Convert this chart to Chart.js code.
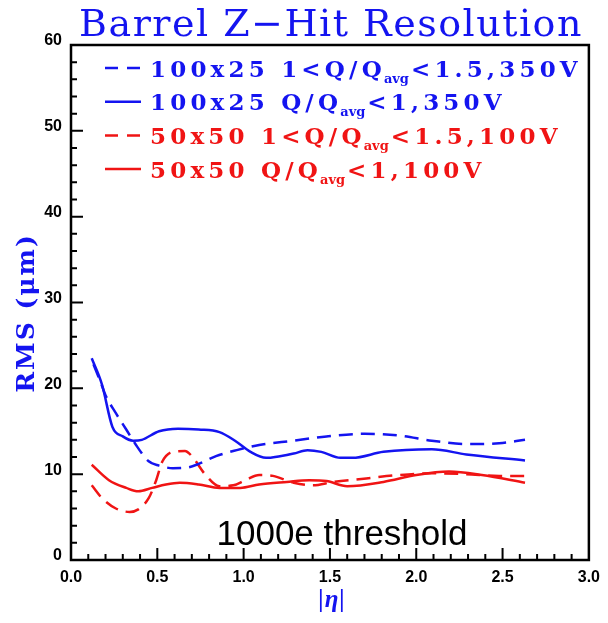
<!DOCTYPE html>
<html>
<head>
<meta charset="utf-8">
<script src="https://cdn.jsdelivr.net/npm/chart.js@4.4.0/dist/chart.umd.min.js"></script>
<style>
  html, body { margin: 0; padding: 0; background: #fff; }
  #wrap { width: 608px; height: 623px; }
</style>
</head>
<body>
<div id="wrap"><canvas id="chart" width="608" height="623"></canvas></div>
<script>
// values
const etaBlueDash = [0.13, 0.17, 0.20, 0.26, 0.32, 0.37, 0.45, 0.51, 0.59, 0.68, 0.74, 0.84, 0.96, 1.09, 1.29, 1.48, 1.70, 1.90, 2.09, 2.29, 2.48, 2.63];
const rmsBlueDash = [22.8, 20.8, 19.2, 17.1, 15.2, 13.6, 11.5, 11.0, 10.7, 10.8, 11.2, 12.1, 12.8, 13.4, 13.9, 14.4, 14.7, 14.5, 13.9, 13.5, 13.6, 14.0];

const etaBlueSolid = [0.12, 0.18, 0.24, 0.30, 0.36, 0.41, 0.51, 0.62, 0.74, 0.86, 0.95, 1.04, 1.13, 1.21, 1.29, 1.37, 1.45, 1.56, 1.63, 1.81, 2.09, 2.29, 2.63];
const rmsBlueSolid = [23.5, 20.4, 15.5, 14.4, 13.9, 14.0, 15.0, 15.3, 15.2, 14.9, 13.9, 12.6, 11.9, 12.1, 12.4, 12.8, 12.6, 11.9, 11.9, 12.6, 12.9, 12.3, 11.6];

const etaRedDash = [0.12, 0.18, 0.26, 0.34, 0.39, 0.45, 0.49, 0.53, 0.59, 0.66, 0.70, 0.78, 0.86, 0.94, 1.01, 1.09, 1.17, 1.29, 1.40, 1.52, 1.71, 1.90, 2.09, 2.29, 2.48, 2.63];
const rmsRedDash = [8.7, 7.2, 6.0, 5.6, 5.9, 7.2, 9.1, 11.5, 12.6, 12.7, 12.1, 9.9, 8.6, 8.7, 9.3, 9.9, 9.8, 9.0, 8.7, 9.1, 9.5, 9.9, 10.1, 10.0, 9.8, 9.8];

const etaRedSolid = [0.12, 0.22, 0.32, 0.39, 0.47, 0.55, 0.63, 0.74, 0.86, 0.98, 1.09, 1.25, 1.38, 1.48, 1.60, 1.81, 2.00, 2.19, 2.38, 2.63];
const rmsRedSolid = [11.1, 9.3, 8.4, 8.0, 8.4, 8.8, 9.0, 8.8, 8.4, 8.4, 8.8, 9.1, 9.3, 9.2, 8.6, 9.1, 9.9, 10.3, 9.9, 9.0];

// legend lines: [text before subscript, subscript, text after]
const legendLabels = [
    ['100x25 1<Q/Q', 'avg', '<1.5,350V'],
    ['100x25 Q/Q', 'avg', '<1,350V'],
    ['50x50 1<Q/Q', 'avg', '<1.5,100V'],
    ['50x50 Q/Q', 'avg', '<1,100V']
];
const legendDashed = [true, false, true, false];

const BLUE = '#1414f0';
const RED = '#f01414';
const legendColors = [BLUE, BLUE, RED, RED];

function pts(xs, ys) {
    return xs.map((x, i) => ({ x: x, y: ys[i] }));
}

function series(label, xs, ys, color, dashed) {
    return {
        label: label,
        data: pts(xs, ys),
        borderColor: color,
        backgroundColor: color,
        borderWidth: 2.5,
        borderDash: dashed ? [14, 8] : [],
        pointRadius: 0,
        fill: false,
        cubicInterpolationMode: 'monotone'
    };
}

// frame, inward ticks, titles, legend and note text
const decorPlugin = {
    id: 'decor',
    afterDraw(chart) {
        const ctx = chart.ctx;
        const a = chart.chartArea;
        const xs = chart.scales.x, ys = chart.scales.y;
        ctx.save();
        ctx.strokeStyle = '#000';
        ctx.lineWidth = 2.5;
        ctx.strokeRect(a.left, a.top, a.right - a.left, a.bottom - a.top);

        ctx.lineWidth = 2;
        ctx.beginPath();
        for (let i = 1; i < 30; i++) {
            const px = xs.getPixelForValue(i / 10);
            const len = (i % 5 === 0) ? 12 : 6;
            ctx.moveTo(px, a.bottom);
            ctx.lineTo(px, a.bottom - len);
        }
        for (let v = 2; v < 60; v += 2) {
            const py = ys.getPixelForValue(v);
            const len = (v % 10 === 0) ? 12 : 6;
            ctx.moveTo(a.left, py);
            ctx.lineTo(a.left + len, py);
        }
        ctx.stroke();

        ctx.textBaseline = 'alphabetic';

        // main title
        ctx.fillStyle = BLUE;
        ctx.textAlign = 'center';
        ctx.font = '38px "DejaVu Serif"';
        ctx.letterSpacing = '1.5px';
        ctx.fillText('Barrel Z\u2212Hit Resolution', 331, 36);

        // axis titles
        ctx.font = 'bold 25px "DejaVu Serif"';
        ctx.letterSpacing = '2px';
        ctx.save();
        ctx.translate(34, 313);
        ctx.rotate(-Math.PI / 2);
        ctx.fillText('RMS (\u03bcm)', 0, 0);
        ctx.restore();

        ctx.font = 'italic bold 25px "Liberation Serif"';
        ctx.letterSpacing = '1px';
        ctx.fillText('|\u03b7|', 332, 607);

        // legend
        const mainFont = 'bold 23px "DejaVu Serif"';
        const subFont = 'bold 13px "DejaVu Serif"';
        ctx.textAlign = 'left';
        legendLabels.forEach((parts, i) => {
            const cy = 68 + i * 33.7;
            ctx.strokeStyle = legendColors[i];
            ctx.lineWidth = 2.5;
            ctx.setLineDash(legendDashed[i] ? [13, 9] : []);
            ctx.beginPath();
            ctx.moveTo(105, cy);
            ctx.lineTo(141, cy);
            ctx.stroke();
            ctx.setLineDash([]);
            ctx.fillStyle = legendColors[i];
            let x = 150;
            const base = cy + 8.5;
            ctx.font = mainFont;
            ctx.letterSpacing = '4.2px';
            ctx.fillText(parts[0], x, base);
            x += ctx.measureText(parts[0]).width - 2;
            ctx.font = subFont;
            ctx.letterSpacing = '0px';
            ctx.fillText(parts[1], x, base + 6);
            x += ctx.measureText(parts[1]).width + 2;
            ctx.font = mainFont;
            ctx.letterSpacing = '4.2px';
            ctx.fillText(parts[2], x, base);
        });

        ctx.letterSpacing = '0px';
        ctx.fillStyle = '#000';
        ctx.font = '35px "Liberation Sans"';
        ctx.textAlign = 'center';
        ctx.fillText('1000e threshold', 342, 545);
        ctx.restore();
    }
};

new Chart(document.getElementById('chart'), {
    type: 'line',
    data: {
        datasets: [
            series('100x25 1<Q/Qavg<1.5,350V', etaBlueDash, rmsBlueDash, BLUE, true),
            series('100x25 Q/Qavg<1,350V', etaBlueSolid, rmsBlueSolid, BLUE, false),
            series('50x50 1<Q/Qavg<1.5,100V', etaRedDash, rmsRedDash, RED, true),
            series('50x50 Q/Qavg<1,100V', etaRedSolid, rmsRedSolid, RED, false)
        ]
    },
    options: {
        responsive: false,
        animation: false,
        devicePixelRatio: 1,
        layout: { padding: { left: 0, right: 18, top: 45, bottom: 0 } },
        plugins: {
            legend: { display: false },
            tooltip: { enabled: false },
            title: { display: false }
        },
        scales: {
            x: {
                type: 'linear',
                min: 0,
                max: 3,
                grid: { display: false, drawTicks: false },
                border: { display: false },
                ticks: {
                    stepSize: 0.5,
                    padding: 8,
                    color: '#000',
                    maxRotation: 0,
                    font: { family: '"Liberation Sans"', size: 16, weight: 'bold' },
                    callback: v => v.toFixed(1)
                },
                afterFit: s => { s.height = 63; }
            },
            y: {
                min: 0,
                max: 60,
                grid: { display: false, drawTicks: false },
                border: { display: false },
                ticks: {
                    stepSize: 10,
                    padding: 9,
                    labelOffset: -4,
                    color: '#000',
                    font: { family: '"Liberation Sans"', size: 16, weight: 'bold' }
                },
                afterFit: s => { s.width = 71; }
            }
        }
    },
    plugins: [decorPlugin]
});
</script>
</body>
</html>
